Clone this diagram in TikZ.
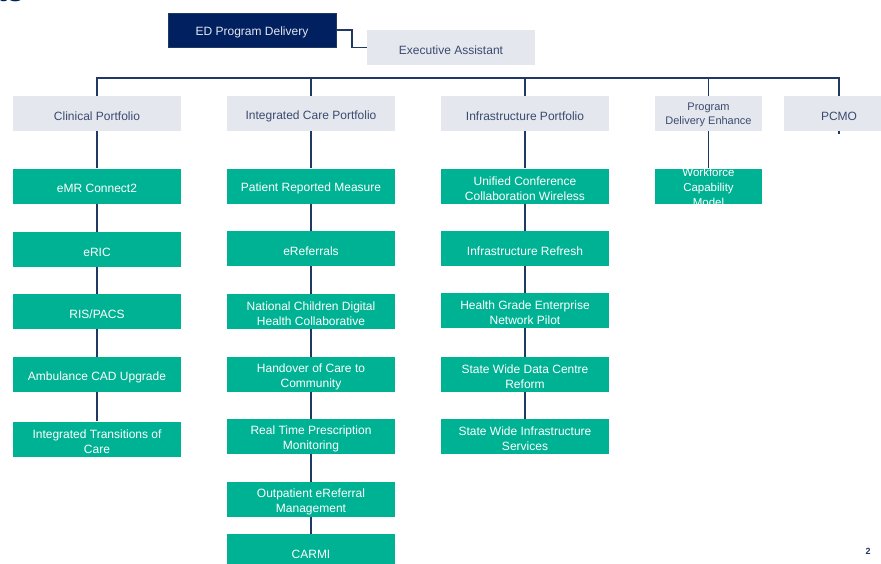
\documentclass[tikz,border=0pt]{standalone}
\usepackage{fontspec}
\setmainfont{Liberation Sans}
\definecolor{navybox}{HTML}{002060}
\definecolor{greybox}{HTML}{E4E7EE}
\definecolor{greentx}{HTML}{3B4B6E}
\definecolor{tealbox}{HTML}{00B294}
\definecolor{linec}{HTML}{1F3864}
\newcommand{\orgbox}[6][]{%
  \node[#3,#5] (#2) at (#4) {};
  \node[lbl,#3txt,#1] (#2-t) at ([yshift=-2.5pt]#2.center) {#6};}
\begin{document}
\begin{tikzpicture}[x=1pt,y=-1pt,
  base/.style={inner sep=0pt,minimum height=35pt},
  lbl/.style={inner sep=0pt,align=center,font=\fontsize{12}{15}\selectfont},
  greyb/.style={base,fill=greybox,minimum width=168pt},
  greybtxt/.style={text=greentx},
  greenb/.style={base,fill=tealbox,minimum width=168pt},
  greenbtxt/.style={text=white},
  navyb/.style={base,fill=navybox,minimum width=168pt,minimum height=34pt,draw=linec,line width=0.6pt},
  navybtxt/.style={text=greybox},
  conn/.style={draw=linec,line width=1.8pt}]
\useasboundingbox (0,0) rectangle (881,563);
% title fragment
\node[anchor=base west,inner sep=0pt,text=navybox,font=\bfseries\fontsize{30}{30}\selectfont] (title) at (-3,1.5) {ts};
% top
\orgbox{ED}{navyb}{252,30}{}{ED Program Delivery}
\orgbox{EA}{greyb}{451,47.5}{}{Executive Assistant}
% portfolios
\orgbox{CP}{greyb}{97,113.5}{}{Clinical Portfolio}
\orgbox{IC}{greyb}{311,113.5}{}{Integrated Care Portfolio}
\orgbox{IP}{greyb}{525,113.5}{}{Infrastructure Portfolio}
\orgbox[font=\fontsize{11}{14}\selectfont,yshift=1pt]{PD}{greyb}{708.5,113.5}{minimum width=107pt}{Program\\Delivery Enhance}
\orgbox{PC}{greyb}{839,113.5}{minimum width=110pt}{PCMO}
% clinical column
\orgbox{c1}{greenb}{97,186}{}{eMR Connect2}
\orgbox{c2}{greenb}{97,249.5}{}{eRIC}
\orgbox{c3}{greenb}{97,311.5}{}{RIS/PACS}
\orgbox{c4}{greenb}{97,374.5}{}{Ambulance CAD Upgrade}
\orgbox{c5}{greenb}{97,439}{}{Integrated Transitions of\\Care}
% integrated column
\orgbox{i1}{greenb}{311,186}{}{Patient Reported Measure}
\orgbox{i2}{greenb}{311,248.5}{}{eReferrals}
\orgbox{i3}{greenb}{311,311.5}{}{National Children Digital\\Health Collaborative}
\orgbox{i4}{greenb}{311,374.5}{}{Handover of Care to\\Community}
\orgbox{i5}{greenb}{311,436.5}{}{Real Time Prescription\\Monitoring}
\orgbox{i6}{greenb}{311,499.5}{}{Outpatient eReferral\\Management}
\orgbox{i7}{greenb}{311,551.5}{}{CARMI}
% infrastructure column
\orgbox{f1}{greenb}{525,186}{}{Unified Conference\\Collaboration Wireless}
\orgbox{f2}{greenb}{525,248.5}{}{Infrastructure Refresh}
\orgbox{f3}{greenb}{525,310.5}{}{Health Grade Enterprise\\Network Pilot}
\orgbox{f4}{greenb}{525,374.5}{}{State Wide Data Centre\\Reform}
\orgbox{f5}{greenb}{525,436.5}{}{State Wide Infrastructure\\Services}
% program delivery enhance column
\orgbox[font=\fontsize{11.5}{15}\selectfont,yshift=1.5pt]{w1}{greenb}{708.5,186}{minimum width=107pt}{Workforce\\Capability\\Model}
% connectors
\draw[conn] (ED.east) -- ++(16,0) |- (EA.west);
\draw[conn] (CP.north) -- (CP.north |- 0,78) -- (PC.north |- 0,78) -- (PC.north);
\draw[conn] (IC.north) -- (IC.north |- 0,78);
\draw[conn] (IP.north) -- (IP.north |- 0,78);
\draw[conn] (PD.north) -- (PD.north |- 0,78);
\draw[conn] (CP.south) -- (c1.north);
\draw[conn] (c1.south) -- (c2.north);
\draw[conn] (c2.south) -- (c3.north);
\draw[conn] (c3.south) -- (c4.north);
\draw[conn] (c4.south) -- (c5.north);
\draw[conn] (IC.south) -- (i1.north);
\draw[conn] (i1.south) -- (i2.north);
\draw[conn] (i2.south) -- (i3.north);
\draw[conn] (i3.south) -- (i4.north);
\draw[conn] (i4.south) -- (i5.north);
\draw[conn] (i5.south) -- (i6.north);
\draw[conn] (i6.south) -- (i7.north);
\draw[conn] (IP.south) -- (f1.north);
\draw[conn] (f1.south) -- (f2.north);
\draw[conn] (f2.south) -- (f3.north);
\draw[conn] (f3.south) -- (f4.north);
\draw[conn] (f4.south) -- (f5.north);
\draw[conn] (PD.south) -- (w1.north);
\coordinate (pcstub) at ([yshift=-2.5pt]PC.south);
\draw[draw=linec,line width=1.2pt] (PC.south) -- (pcstub);
% page number
\node[inner sep=0pt,text=linec,font=\bfseries\fontsize{9}{9}\selectfont] (pg) at (868,551) {2};
\end{tikzpicture}
\end{document}
